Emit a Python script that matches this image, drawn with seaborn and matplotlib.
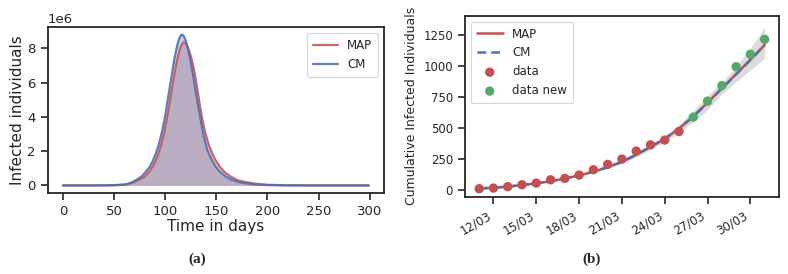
import numpy as np
import pandas as pd
import matplotlib
matplotlib.use("Agg")
import matplotlib.pyplot as plt
import matplotlib.dates as mdates
import seaborn as sns

# ---- Panel (a) data: infected individuals (millions) vs time in days ----
days_cm = [0, 20, 40, 50, 60, 64, 67, 72, 77, 81, 85, 88, 91, 94, 97, 100, 103,
           106, 109, 112, 114, 116, 118, 120, 122, 124, 126, 128, 130, 132,
           134, 137, 141, 145, 149, 154, 159, 165, 173, 185, 200, 220, 250, 299]
cm_inf = [0.0, 0.0, 0.005, 0.02, 0.05, 0.11, 0.18, 0.33, 0.53, 0.8, 1.1, 1.45,
          1.88, 2.45, 3.18, 4.07, 5.2, 6.3, 7.4, 8.25, 8.62, 8.81, 8.74, 8.47,
          8.02, 7.48, 6.85, 6.15, 5.4, 4.7, 4.05, 3.05, 2.1, 1.55, 1.12, 0.76,
          0.53, 0.33, 0.18, 0.07, 0.02, 0.005, 0.0, 0.0]
days_map = [0, 20, 40, 50, 60, 65, 70, 75, 80, 84, 88, 92, 96, 99, 102, 105,
            108, 111, 114, 116, 118, 120, 122, 124, 126, 128, 130, 132, 134,
            136, 139, 143, 148, 153, 158, 164, 171, 180, 190, 200, 220, 250, 299]
map_inf = [0.0, 0.0, 0.004, 0.015, 0.04, 0.1, 0.2, 0.35, 0.52, 0.78, 1.12,
           1.62, 2.35, 3.09, 4.0, 5.05, 6.15, 7.15, 7.9, 8.22, 8.37, 8.3, 8.08,
           7.75, 7.33, 6.8, 6.15, 5.4, 4.65, 3.95, 3.1, 2.3, 1.6, 1.12, 0.78,
           0.52, 0.3, 0.18, 0.09, 0.04, 0.01, 0.0, 0.0]

# ---- Panel (b) data: cumulative infected individuals ----
dates = pd.date_range("2020-03-11", "2020-03-31", freq="D")
curve_map = [10, 16, 25, 37, 51, 68, 90, 115, 145, 182, 225, 282, 345, 410,
             492, 592, 702, 818, 932, 1048, 1167]
curve_cm = [10, 16, 25, 37, 51, 68, 90, 115, 145, 182, 225, 282, 345, 410,
            492, 590, 700, 816, 930, 1046, 1165]
band_low = [9, 15, 23, 35, 48, 64, 85, 109, 137, 172, 212, 265, 324, 384,
            458, 548, 644, 770, 870, 965, 1060]
band_high = [11, 17, 27, 39, 54, 72, 95, 121, 153, 192, 238, 299, 366, 436,
             526, 636, 760, 868, 995, 1140, 1314]
data_dates = dates[:15]
data_vals = [8, 13, 24, 40, 53, 80, 91, 118, 161, 204, 247, 311, 362, 400, 469]
new_dates = dates[15:]
new_vals = [585, 714, 839, 992, 1092, 1212]

sns.set_theme(style="ticks", context="paper")
plt.rcParams["font.family"] = ["DejaVu Sans"]

red = "#C44E52"
blue = "#4C72B0"
green = "#55A868"
dark = "#262626"

fig = plt.figure(figsize=(7.88, 2.74), dpi=100)
ax1 = fig.add_axes([0.0605, 0.2956, 0.4268, 0.606])
ax2 = fig.add_axes([0.590, 0.281, 0.3985, 0.6617])

dfm = pd.DataFrame({"day": days_map, "val": np.array(map_inf) * 1e6})
dfc = pd.DataFrame({"day": days_cm, "val": np.array(cm_inf) * 1e6})

sns.lineplot(data=dfm, x="day", y="val", ax=ax1, color=red, lw=1.6,
             alpha=0.85, label="MAP")
sns.lineplot(data=dfc, x="day", y="val", ax=ax1, color=blue, lw=1.6,
             alpha=0.9, label="CM")
ax1.fill_between(dfm["day"], dfm["val"], color=red, alpha=0.3, lw=0)
ax1.fill_between(dfc["day"], dfc["val"], color=blue, alpha=0.3, lw=0)
ax1.set_xlabel("Time in days", fontsize=11, color=dark, labelpad=1)
ax1.set_ylabel("Infected individuals", fontsize=11, color=dark, labelpad=2)
ax1.set_xticks([0, 50, 100, 150, 200, 250, 300])
ax1.set_yticks([0, 2e6, 4e6, 6e6, 8e6])
ax1.tick_params(labelsize=9.5, length=5, width=1.2, colors=dark)
ax1.yaxis.get_offset_text().set_fontsize(9.5)
ax1.legend(loc="upper right", fontsize=8.5, frameon=True,
           handlelength=2.1, borderpad=0.5)
for sp in ax1.spines.values():
    sp.set_linewidth(1.3)
    sp.set_color(dark)

# panel b
ax2.fill_between(dates, band_low, band_high, color="#bbbbbb", alpha=0.5, lw=0)
sns.lineplot(x=dates, y=curve_map, ax=ax2, color=red, lw=1.8, label="MAP")
sns.lineplot(x=dates, y=curve_cm, ax=ax2, color=blue, lw=1.8,
             linestyle=(0, (3.5, 2)), label="CM")
sns.scatterplot(x=data_dates, y=data_vals, ax=ax2, color=red, s=45,
                edgecolor="none", label="data", zorder=3)
sns.scatterplot(x=new_dates, y=new_vals, ax=ax2, color=green, s=45,
                edgecolor="none", label="data new", zorder=3)
ax2.set_xlabel("")
ax2.set_ylabel("Cumulative Infected Individuals", fontsize=9, color=dark,
               labelpad=4)
ax2.set_yticks([0, 250, 500, 750, 1000, 1250])
ax2.set_ylim(-59, 1403)
ax2.xaxis.set_major_locator(mdates.DayLocator(bymonthday=[12, 15, 18, 21, 24, 27, 30]))
ax2.xaxis.set_major_formatter(mdates.DateFormatter("%d/%m"))
ax2.tick_params(labelsize=8.5, length=5, width=1.2, colors=dark)
for lab in ax2.get_xticklabels():
    lab.set_rotation(30)
    lab.set_ha("right")
ax2.legend(loc="upper left", fontsize=8.5, frameon=True, handlelength=2.2,
           borderpad=0.5)
for sp in ax2.spines.values():
    sp.set_linewidth(1.3)
    sp.set_color(dark)

fig.text(0.25, 0.04, "(a)", ha="center", fontsize=11, fontweight="bold",
         family="Liberation Serif")
fig.text(0.751, 0.04, "(b)", ha="center", fontsize=11, fontweight="bold",
         family="Liberation Serif")

fig.savefig("out.png", dpi=100)
